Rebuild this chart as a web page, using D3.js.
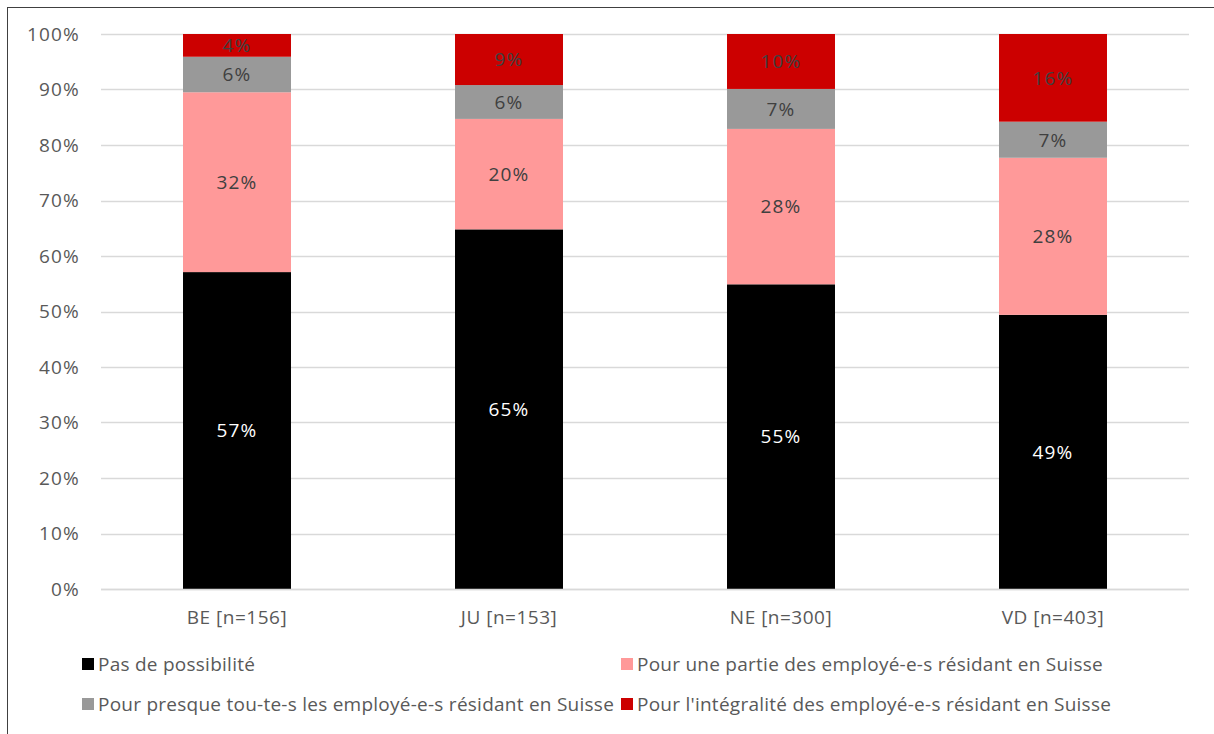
<!DOCTYPE html>
<html>
<head>
<meta charset="utf-8">
<script src="https://cdn.jsdelivr.net/npm/d3@7"></script>
<style>
  html, body { margin: 0; padding: 0; background: #fff; }
  svg { display: block; font-family: "Open Sans", "Noto Sans", sans-serif; }
</style>
</head>
<body>
<svg id="chart" width="1214" height="734"></svg>
<script>
const categories = ["BE [n=156]", "JU [n=153]", "NE [n=300]", "VD [n=403]"];
const seriesNames = [
  "Pas de possibilité",
  "Pour une partie des employé-e-s résidant en Suisse",
  "Pour presque tou-te-s les employé-e-s résidant en Suisse",
  "Pour l'intégralité des employé-e-s résidant en Suisse"
];
const noPossibility = [57.1, 64.8, 54.9, 49.4];
const partOfEmployees = [32.4, 19.9, 28.0, 28.3];
const almostAll = [6.4, 6.1, 7.2, 6.5];
const allEmployees = [4.1, 9.2, 9.9, 15.8];
const valueLabels = [
  ["57%", "65%", "55%", "49%"],
  ["32%", "20%", "28%", "28%"],
  ["6%", "6%", "7%", "7%"],
  ["4%", "9%", "10%", "16%"]
];
const yTicks = [0, 10, 20, 30, 40, 50, 60, 70, 80, 90, 100];
const colors = ["#000000", "#ff9999", "#999999", "#cc0000"];
const labelColors = ["#ffffff", "#404040", "#404040", "#404040"];

const seriesValues = [noPossibility, partOfEmployees, almostAll, allEmployees];
const keys = ["s0", "s1", "s2", "s3"];
const table = categories.map((c, i) => {
  const row = { cat: c, idx: i };
  keys.forEach((k, j) => row[k] = seriesValues[j][i]);
  return row;
});
const stacked = d3.stack().keys(keys)(table);

const svg = d3.select("#chart");

// outer border (left & top visible)
svg.append("rect").attr("x", 7.5).attr("y", 7.5).attr("width", 1230).attr("height", 760)
  .attr("fill", "none").attr("stroke", "#404040").attr("stroke-width", 1);

const x = d3.scaleBand().domain(categories).range([101, 1189]).paddingInner(0.603).paddingOuter(0.3015);
const y = d3.scaleLinear().domain([0, 100]).range([589, 34]);

// gridlines
svg.append("g").selectAll("line").data(yTicks).join("line")
  .attr("x1", 101).attr("x2", 1189)
  .attr("y1", d => Math.round(y(d)) + 0.5).attr("y2", d => Math.round(y(d)) + 0.5)
  .attr("stroke", "#d9d9d9").attr("stroke-width", 1.5);

// y axis labels
const yAxis = d3.axisLeft(y).tickValues(yTicks).tickFormat(d => d + "%").tickSize(0).tickPadding(0);
const yg = svg.append("g").attr("transform", "translate(80,0)").call(yAxis);
yg.select(".domain").remove();
yg.selectAll("text").attr("font-size", 19).attr("fill", "#595959")
  .attr("letter-spacing", "1.2px")
  .attr("font-family", "'Open Sans', 'Noto Sans', sans-serif");

// bars
const layers = svg.append("g").selectAll("g").data(stacked).join("g")
  .attr("fill", (d, i) => colors[i]);
layers.selectAll("rect").data(d => d).join("rect")
  .attr("x", d => x(d.data.cat))
  .attr("width", x.bandwidth())
  .attr("y", d => y(d[1]))
  .attr("height", d => y(d[0]) - y(d[1]));

// value labels
stacked.forEach((layer, si) => {
  svg.append("g").selectAll("text").data(layer).join("text")
    .attr("x", d => x(d.data.cat) + x.bandwidth() / 2)
    .attr("y", d => (y(d[0]) + y(d[1])) / 2)
    .attr("dy", "0.36em")
    .attr("text-anchor", "middle")
    .attr("font-size", 19)
    .attr("letter-spacing", "1.2px")
    .attr("fill", labelColors[si])
    .text(d => valueLabels[si][d.data.idx]);
});

// x axis
svg.append("line").attr("x1", 101).attr("x2", 1189).attr("y1", 589.5).attr("y2", 589.5)
  .attr("stroke", "#d9d9d9").attr("stroke-width", 1.5);
const xAxis = d3.axisBottom(x).tickSize(0).tickPadding(0);
const xg = svg.append("g").attr("transform", "translate(0,624)").call(xAxis);
xg.select(".domain").remove();
xg.selectAll("text").attr("font-size", 19).attr("fill", "#595959").attr("dy", 0)
  .attr("letter-spacing", "0.5px")
  .attr("font-family", "'Open Sans', 'Noto Sans', sans-serif");

// legend
const legendPos = [
  { x: 82, y: 664 }, { x: 621, y: 664 },
  { x: 82, y: 704 }, { x: 621, y: 704 }
];
const order = [0, 1, 2, 3];
const lg = svg.append("g").selectAll("g").data(order).join("g")
  .attr("transform", (d, i) => `translate(${legendPos[i].x},${legendPos[i].y})`);
lg.append("rect").attr("x", 0).attr("y", -6).attr("width", 12).attr("height", 12)
  .attr("fill", d => colors[d]);
lg.append("text").attr("x", 16).attr("y", 0).attr("dy", "0.36em")
  .attr("font-size", 19).attr("letter-spacing", "0.25px").attr("fill", "#595959")
  .text(d => seriesNames[d]);
</script>
</body>
</html>
